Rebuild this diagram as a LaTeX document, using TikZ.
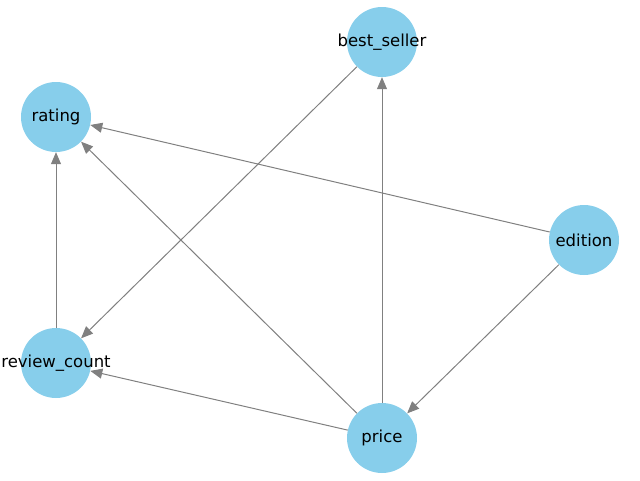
\documentclass[tikz,border=0pt]{standalone}
\usepackage{fontspec}
\setmainfont{DejaVu Sans}
\usetikzlibrary{arrows.meta}
\definecolor{skyblue}{RGB}{135,206,235}
\begin{document}
\begin{tikzpicture}[x=1pt,y=-1pt,vertex/.style={circle,fill=skyblue,minimum size=70pt,inner sep=0pt},
	every label/.style={font=\fontsize{16.5}{19}\selectfont,inner sep=0pt}]
		\useasboundingbox (0,0) rectangle (640,480);

		%nodes
		\node[vertex,label=center:best\_seller] (n1) at (382,42) {};
		\node[vertex,label=center:rating] (n2) at (56,117) {};
		\node[vertex,label=center:edition] (n3) at (584,240) {};
		\node[vertex,label=center:review\_count] (n4) at (56,363) {};
		\node[vertex,label=center:price] (n5) at (382,438) {};

		%edges
		\begin{scope}[draw=gray,line width=1pt,-{Triangle[length=12pt,width=10pt]}]
		\draw (n1) -- (n4);
		\draw (n5) -- (n1);
		\draw (n3) -- (n2);
		\draw (n4) -- (n2);
		\draw (n5) -- (n2);
		\draw (n3) -- (n5);
		\draw (n5) -- (n4);
		\end{scope}
		\end{tikzpicture}
\end{document}
